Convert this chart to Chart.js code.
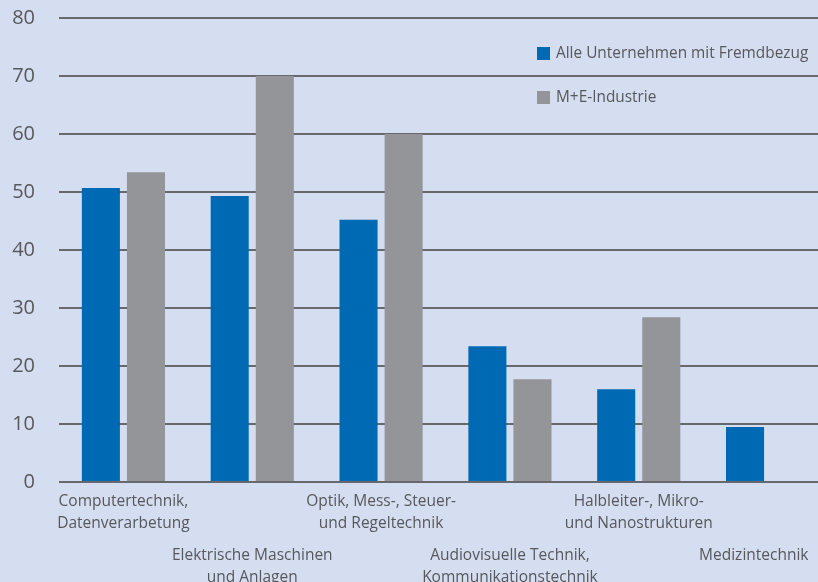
<!DOCTYPE html>
<html>
<head>
<meta charset="utf-8">
<script src="https://cdn.jsdelivr.net/npm/chart.js@4"></script>
<style>
    html, body { margin: 0; padding: 0; background: #d5ddf0; overflow: hidden; }
    #wrap { width: 832px; height: 592px; position: relative; }
</style>
</head>
<body>
<div id="wrap"><canvas id="techChart"></canvas></div>
<script>
const categories = [
    ['Computertechnik,', 'Datenverarbetung'],
    ['Elektrische Maschinen', 'und Anlagen'],
    ['Optik, Mess-, Steuer-', 'und Regeltechnik'],
    ['Audiovisuelle Technik,', 'Kommunikationstechnik'],
    ['Halbleiter-, Mikro-', 'und Nanostrukturen'],
    ['Medizintechnik']
]
const seriesNames = ['Alle Unternehmen mit Fremdbezug', 'M+E-Industrie']
const alleValues = [50.7, 49.3, 45.2, 23.4, 16.0, 9.5]
const meValues = [53.4, 70.0, 60.0, 17.7, 28.4, null]
const yTicks = [0, 10, 20, 30, 40, 50, 60, 70, 80]

const textColor = '#57585b'

// legend sits inside the plot, top right
const innerLegend = {
    id: 'innerLegend',
    afterDatasetsDraw(chart) {
        const ctx = chart.ctx
        ctx.save()
        ctx.font = '15.4px "Open Sans"'
        ctx.textBaseline = 'middle'
        chart.data.datasets.forEach((ds, i) => {
            const y = 47 + i * 44
            ctx.fillStyle = ds.backgroundColor
            ctx.fillRect(537, y, 13, 13)
            ctx.fillStyle = textColor
            ctx.fillText(ds.label, 556, y + 7)
        })
        ctx.restore()
    }
}

const data = {
    labels: categories,
    datasets: [{
        label: seriesNames[0],
        data: alleValues,
        backgroundColor: '#0069b4',
        barPercentage: 0.844,
        categoryPercentage: 0.70
    }, {
        label: seriesNames[1],
        data: meValues,
        backgroundColor: '#939598',
        barPercentage: 0.844,
        categoryPercentage: 0.70
    }]
}

const labelFont = { family: '"Open Sans"', size: 15.5, lineHeight: 1.42 }
const noSidePadding = axis => {
    axis.paddingLeft = 0
    axis.paddingRight = 0
    axis.paddingTop = 0
    axis.paddingBottom = 0
}

const chart = new Chart('techChart', {
    type: 'bar',
    data: data,
    plugins: [innerLegend],
    options: {
        responsive: true,
        maintainAspectRatio: false,
        animation: false,
        layout: { padding: { left: 12, top: 18, right: 0, bottom: 0 } },
        plugins: {
            legend: { display: false },
            tooltip: { enabled: false }
        },
        scales: {
            x: {
                position: 'bottom',
                grid: { display: false, drawTicks: false },
                border: { display: false },
                afterFit: axis => {
                    noSidePadding(axis)
                    axis.height = 53
                },
                ticks: {
                    color: textColor,
                    font: labelFont,
                    padding: 9,
                    autoSkip: false,
                    maxRotation: 0,
                    minRotation: 0,
                    callback: function (value, index) {
                        return index % 2 === 0 ? this.getLabelForValue(value) : ''
                    }
                }
            },
            x2: {
                position: 'bottom',
                type: 'category',
                grid: { display: false, drawTicks: false },
                border: { display: false },
                afterFit: axis => {
                    noSidePadding(axis)
                    axis.height = 57
                },
                ticks: {
                    color: textColor,
                    font: labelFont,
                    padding: 10,
                    autoSkip: false,
                    maxRotation: 0,
                    minRotation: 0,
                    callback: function (value, index) {
                        if (index % 2 === 0) return ''
                        const label = this.getLabelForValue(value)
                        // last label sits a bit left of its bars
                        return index === categories.length - 1 ? label + '\u2003   ' : label
                    }
                }
            },
            y: {
                min: yTicks[0],
                max: yTicks[yTicks.length - 1],
                afterBuildTicks: axis => {
                    axis.ticks = yTicks.map(v => ({ value: v }))
                },
                afterFit: axis => {
                    axis.paddingTop = 0
                    axis.paddingBottom = 0
                    axis.width = 47
                },
                grid: {
                    color: '#67686c',
                    lineWidth: 2,
                    drawTicks: false
                },
                border: { display: false },
                ticks: {
                    color: textColor,
                    font: { family: '"Open Sans"', size: 20 },
                    padding: 24
                }
            }
        }
    }
})
</script>
</body>
</html>
